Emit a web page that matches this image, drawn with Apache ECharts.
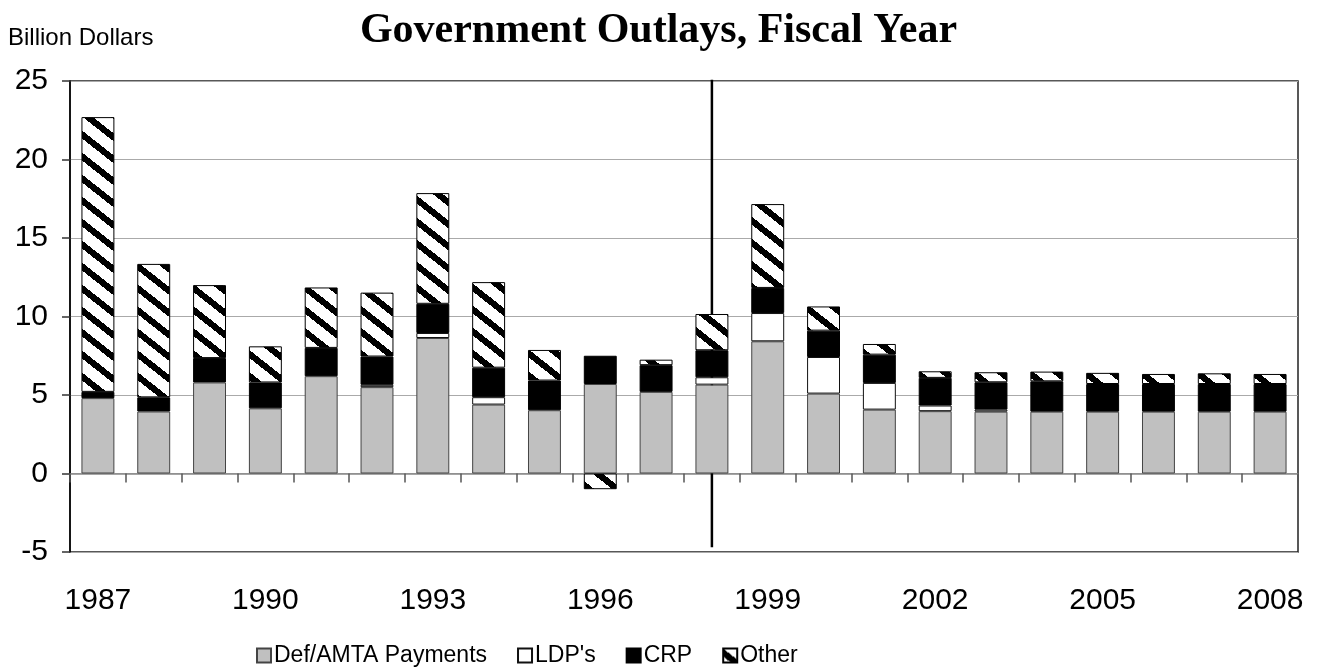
<!DOCTYPE html>
<html>
<head>
<meta charset="utf-8">
<title>Government Outlays, Fiscal Year</title>
<script src="https://cdn.jsdelivr.net/npm/echarts@6/dist/echarts.min.js"></script>
<style>
  html, body { margin: 0; padding: 0; background: #fff; }
  #chart { width: 1317px; height: 671px; }
</style>
</head>
<body>
<div id="chart"></div>
<script>
// Fiscal years on the category axis
const years = ['1987','1988','1989','1990','1991','1992','1993','1994','1995','1996','1997',
               '1998','1999','2000','2001','2002','2003','2004','2005','2006','2007','2008'];

// Outlays by program, billion dollars
const defAmta = [4.8, 3.95, 5.8, 4.15, 6.2, 5.5, 8.63, 4.39, 4.03, 5.7, 5.2,
                 5.66, 8.42, 5.09, 4.07, 3.97, 3.94, 3.94, 3.94, 3.94, 3.94, 3.94];
const ldp     = [null, null, null, null, null, 0.15, 0.32, 0.47, null, null, null,
                 0.47, 1.8, 2.33, 1.7, 0.36, 0.13, null, null, null, null, null];
const crp     = [0.4, 0.9, 1.55, 1.65, 1.8, 1.8, 1.86, 1.88, 1.89, 1.8, 1.7,
                 1.72, 1.6, 1.68, 1.8, 1.76, 1.74, 1.93, 1.76, 1.76, 1.76, 1.76];
const other   = [17.5, 8.5, 4.65, 2.3, 3.85, 4.07, 7.05, 5.45, 1.95, -1.0, 0.35,
                 2.31, 5.34, 1.54, 0.68, 0.42, 0.64, 0.62, 0.71, 0.64, 0.68, 0.64];

// Value axis range and step
const yMin = -5, yMax = 25, yStep = 5;
// Divider between actual and projected years, with its vertical extent
const splitYear = '1998';
const splitSpan = [25.2, -4.7];

// Black-on-white downward diagonal hatch, drawn pixel by pixel for crisp steps
function makeHatch() {
  const W = 28, H = 22, T = 8;
  const c = document.createElement('canvas');
  c.width = W; c.height = H;
  const ctx = c.getContext('2d');
  ctx.fillStyle = '#fff';
  ctx.fillRect(0, 0, W, H);
  ctx.fillStyle = '#000';
  for (let y = 0; y < H; y++) {
    for (let x = 0; x < W; x++) {
      const d = (((y - x * H / W) % H) + H) % H;
      if (d < T) ctx.fillRect(x, y, 1, 1);
    }
  }
  return c;
}

const chart = echarts.init(document.getElementById('chart'), null, { renderer: 'canvas' });
const font = 'Liberation Sans, Arial, sans-serif';

chart.setOption({
  animation: false,
  backgroundColor: '#fff',
  title: [
    {
      text: 'Government Outlays, Fiscal Year',
      left: 'center', top: 5,
      textStyle: { fontFamily: 'Liberation Serif, Times New Roman, serif', fontWeight: 'bold', fontSize: 42, color: '#000' }
    },
    {
      text: 'Billion Dollars',
      left: 3, top: 21,
      textStyle: { fontFamily: font, fontWeight: 'normal', fontSize: 24, color: '#000' }
    }
  ],
  legend: {
    data: ['Def/AMTA Payments', "LDP's", 'CRP', 'Other'],
    left: 251, top: 639,
    itemWidth: 14, itemHeight: 14, itemGap: 30,
    icon: 'rect',
    textStyle: { fontFamily: font, fontSize: 23, color: '#000', padding: [0, 0, 0, -2] },
    selectedMode: false
  },
  grid: {
    left: 70, right: 19, top: 81, bottom: 119,
    show: true, borderColor: '#222', borderWidth: 1.5, backgroundColor: 'transparent'
  },
  xAxis: [
    {
      type: 'category', data: years, position: 'bottom',
      axisLine: { onZero: true, lineStyle: { color: '#888', width: 1.5 } },
      axisTick: { show: true, interval: 0, length: 9, lineStyle: { color: '#555', width: 1.5 } },
      axisLabel: { show: false },
      splitLine: { show: false }
    },
    {
      type: 'category', data: years, position: 'bottom',
      axisLine: { show: false, onZero: false },
      axisTick: { show: false },
      axisLabel: { interval: 2, margin: 34, fontFamily: font, fontSize: 30, color: '#000' },
      splitLine: { show: false }
    }
  ],
  yAxis: {
    type: 'value', min: yMin, max: yMax, interval: yStep,
    axisLine: { show: true, lineStyle: { color: '#000', width: 1.5 } },
    axisTick: { show: true, length: 8, lineStyle: { color: '#333', width: 1.5 } },
    axisLabel: { margin: 22, fontFamily: font, fontSize: 30, color: '#000' },
    splitLine: { show: true, lineStyle: { color: '#aaa', width: 1.2 } }
  },
  series: [
    {
      // divider line, drawn beneath the bars
      name: 'divider', type: 'line', z: 1, silent: true,
      data: [[splitYear, splitSpan[0]], [splitYear, splitSpan[1]]],
      symbol: 'none',
      lineStyle: { color: '#000', width: 2.5 },
      tooltip: { show: false }
    },
    {
      name: 'Def/AMTA Payments', type: 'bar', stack: 'total', data: defAmta, z: 2,
      barCategoryGap: '41%',
      itemStyle: { color: '#c0c0c0', borderColor: '#444', borderWidth: 1 }
    },
    {
      name: "LDP's", type: 'bar', stack: 'total', data: ldp, z: 2,
      itemStyle: { color: '#fff', borderColor: '#111', borderWidth: 1 }
    },
    {
      name: 'CRP', type: 'bar', stack: 'total', data: crp, z: 2,
      itemStyle: { color: '#000', borderColor: '#000', borderWidth: 1 }
    },
    {
      name: 'Other', type: 'bar', stack: 'total', data: other, z: 2,
      itemStyle: { color: { image: makeHatch(), repeat: 'repeat' }, borderColor: '#000', borderWidth: 1 }
    }
  ]
});
</script>
</body>
</html>
